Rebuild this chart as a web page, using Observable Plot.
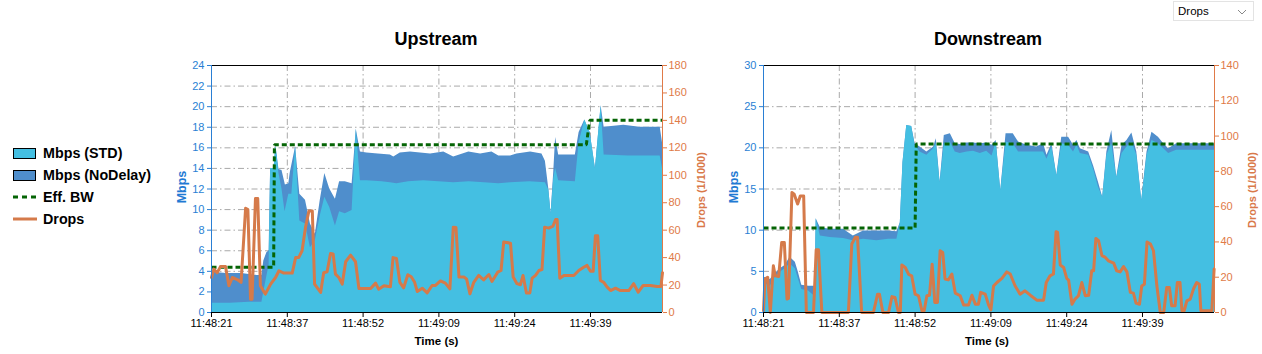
<!DOCTYPE html>
<html><head><meta charset="utf-8">
<script src="https://cdn.jsdelivr.net/npm/d3@7"></script>
<script src="https://cdn.jsdelivr.net/npm/@observablehq/plot@0.6"></script>
<style>
html,body{margin:0;padding:0;background:#fff;overflow:hidden;}
#root{position:relative;width:1262px;height:354px;font-family:"Liberation Sans",Arial,sans-serif;}
.title{position:absolute;font-weight:bold;font-size:18px;line-height:18px;color:#000;transform:translateX(-50%);white-space:nowrap;}
.rot{position:absolute;font-weight:bold;font-size:11px;line-height:11px;white-space:nowrap;transform:translate(-50%,-50%) rotate(-90deg);}
.xlab{position:absolute;font-weight:bold;font-size:11.5px;line-height:12px;white-space:nowrap;transform:translate(-50%,-50%);color:#000;}
.lg{position:absolute;left:43px;font-weight:bold;font-size:14.3px;line-height:20px;color:#000;white-space:nowrap;}
.box{position:absolute;left:13px;width:23px;height:11px;border:1px solid #000;box-sizing:border-box;}
svg.plot{position:absolute;}
</style>
</head><body>
<div id="root"></div>
<script>
// ---------- shared axis data ----------
const timeTickIdx = [0, 20, 40, 60, 80, 100];
const timeLabels = ["11:48:21", "11:48:37", "11:48:52", "11:49:09", "11:49:24", "11:49:39"];
const upMbpsTicks = [0,2,4,6,8,10,12,14,16,18,20,22,24];
const upDropsTicks = [0,20,40,60,80,100,120,140,160,180];
const dnMbpsTicks = [0,5,10,15,20,25,30];
const dnDropsTicks = [0,20,40,60,80,100,120,140];
const legendLabels = ["Mbps (STD)", "Mbps (NoDelay)", "Eff. BW", "Drops"];

// ---------- Upstream series: [sample, value] ----------
const upStd = [[0,0.9],[5,0.9],[10,1.0],[13.3,1.0],[13.8,2.0],[14.6,3.5],[15.2,4.6],[15.6,14.0],[16.5,14.0],[17,16.2],[17.8,13.5],[18.6,12.0],[19.4,9.8],[20.4,11.5],[21.2,11.5],[22.2,16.1],[23.3,8.9],[24.8,8.6],[26.1,6.3],[27.4,7.0],[28.7,9.4],[29.9,11.2],[31.2,10.2],[32.7,8.4],[33.8,9.8],[35.3,9.6],[37.1,9.9],[38.2,17.8],[39.3,12.8],[41,12.8],[45,12.7],[47.2,12.6],[48.9,12.5],[52,12.7],[56,12.8],[60,12.7],[63.9,12.6],[68,12.7],[72,12.6],[75.8,12.5],[78.9,12.6],[84,12.7],[88.1,12.6],[89,11.9],[89.6,9.6],[90.3,13.0],[90.8,14.0],[91.6,12.8],[96,12.7],[97,16.5],[98.5,18.7],[99.9,17.5],[101.3,14.0],[102.8,20.1],[103.6,15.3],[110,15.2],[118.4,15.2],[119,14.0]];
const upNoDelay = [[0,3.9],[4,3.8],[8,3.8],[12,3.6],[13.3,3.6],[13.8,5.0],[14.6,5.8],[15.2,6.0],[15.6,14.0],[16.5,14.0],[17,16.2],[17.8,13.9],[18.6,13.8],[19.5,12.4],[20.4,12.5],[20.8,13.6],[22.2,16.1],[23.3,11.5],[24.8,10.9],[26.1,8.6],[27.4,7.6],[28.7,10.9],[29.9,13.5],[31.2,12.0],[32.7,11.0],[33.8,12.7],[35.3,12.7],[37.1,12.5],[38.2,17.8],[39.3,15.6],[41,15.5],[44,15.4],[47.2,15.3],[48.1,15.1],[49.8,15.5],[52.5,15.6],[57.8,15.4],[61.3,15.6],[63.9,15.1],[67.9,15.6],[71,15.4],[74,15.6],[75.8,15.2],[78.9,15.2],[80.6,15.4],[84.2,15.6],[87.2,15.4],[88.1,14.7],[89,12.0],[89.6,9.6],[90.3,13.6],[90.8,17.0],[91.6,15.3],[96,15.3],[97,17.5],[98.5,18.7],[99.9,17.5],[101.3,14.0],[102.8,20.1],[103.6,18.0],[108.8,18.2],[113,18.0],[118.4,18.0],[119,16.5]];
const upEffBw = [[0,4.4],[16.4,4.4],[16.6,16.3],[98.9,16.3],[99.8,18.67],[119,18.67]];
const upDrops = [[0,25.5],[0.6,31.6],[1.5,29],[2.4,33.6],[3.7,33.6],[4.6,19.5],[5.5,25.5],[6.8,24],[7.8,22],[9,76],[9.6,75],[10.3,9.7],[10.7,9.7],[11.6,83],[12.2,83],[12.9,19.5],[14.2,13.4],[15.6,20.7],[16.9,25.5],[17.8,30.4],[19.1,28.7],[21.3,28.7],[22.2,40],[23,40],[23.9,45],[24.8,62],[25.7,74],[26.6,74],[27.2,20.7],[28.8,14.6],[29.6,29],[30.5,29.7],[31.4,43],[32.1,42.6],[32.7,28],[33.6,25.5],[34.5,20.7],[35.4,37],[36.7,41.8],[38,37],[38.9,17.5],[42,17.5],[43.3,21.4],[44.1,17],[45.5,19.5],[47.2,18.7],[47.9,40],[48.8,39.4],[49.7,22],[50.7,18],[51.8,27.5],[52.7,26],[53.6,22],[54.3,15.3],[55.6,17.7],[56.9,14.3],[58.2,19.7],[59.1,19.7],[60.4,23],[61.7,21.4],[62.9,17.2],[63.8,62.2],[64.5,62],[65.3,25.8],[66.6,25.8],[67.3,24.5],[68.2,13.6],[69.2,22],[70.5,27],[71.8,23.8],[73.2,27.7],[74,22.6],[75.5,29.4],[76.4,30.6],[77.1,51.3],[78.9,50.5],[79.6,25.8],[80.6,21],[81.5,20.2],[82.2,27],[83.1,14.3],[84,14.3],[84.6,25],[85.5,27],[86.4,30.6],[87.2,31.3],[87.9,62.2],[89,61.5],[90.1,63],[90.8,67.8],[91.2,67.8],[91.9,25],[93,27],[95.6,27],[96.9,30.6],[98.2,33],[99.1,34.3],[100,30],[100.7,30],[101.3,56],[101.9,56],[102.6,23.3],[103.5,22],[104.4,18.5],[105.3,16],[106.6,17.7],[107.9,16],[110.1,16],[111.4,21],[112.6,14.8],[113.9,19.7],[115.8,19.7],[117.6,19],[118.6,19],[119,29]];

// ---------- Downstream series: [sample, value] ----------
const dnStd = [[0,3.6],[1.8,3.2],[3.1,4.3],[4.4,4.9],[5.7,5.3],[7,5.9],[8.4,5.3],[9.2,4.1],[10.1,2.8],[11.9,2.6],[13.2,2.1],[13.6,2.1],[13.9,11.4],[15,9.3],[17.6,9.1],[21.1,9.0],[23.7,8.7],[26.4,8.9],[29.9,8.7],[33,8.9],[35.2,8.9],[36.1,10.9],[36.8,18.2],[37.8,22.7],[39.1,22.6],[40,20.3],[41.3,19.5],[43.1,19.1],[44.9,19.9],[45.6,20.5],[46.6,15.8],[47.7,20.5],[49.3,20.7],[50.6,19.5],[51.9,19.3],[53.7,19.5],[55.4,19.6],[57.2,19.3],[58.9,19.6],[60.3,19.0],[61.4,20.7],[62.6,14.8],[64,20.7],[65.9,20.5],[67.3,19.5],[69.5,19.5],[72.1,19.5],[73.9,19.5],[74.8,18.6],[76.1,20.1],[77.4,16.6],[78.7,20.5],[80.5,20.3],[81.8,19.5],[82.7,20.3],[83.6,19.3],[85.8,19.1],[87.1,17.4],[88.4,15.2],[89.5,14.0],[90.6,19.1],[91.9,20.5],[93.2,16.4],[94.6,19.3],[95.9,20.1],[97.2,20.7],[98.5,19.1],[99.8,13.6],[101.2,19.1],[102.5,20.9],[104.2,20.5],[105.6,19.9],[106.9,19.3],[109,19.7],[114,19.7],[119,19.7]];
const dnNoDelay = [[0,4.3],[1.8,4.0],[3.1,4.7],[4.4,5.3],[5.7,5.7],[7,6.7],[8.4,6.1],[9.2,4.9],[10.1,3.3],[11.9,3.2],[13.2,3.2],[13.6,3.2],[13.9,11.4],[15,10.3],[17.6,10.1],[21.1,10.1],[23.7,9.3],[26.4,9.9],[29.9,9.9],[33,9.9],[35.2,9.8],[36.1,10.9],[36.8,18.2],[37.8,22.7],[39.1,22.6],[40,20.5],[41.3,20.1],[43.1,19.5],[44.9,20.1],[45.6,21.1],[46.6,15.8],[47.7,21.5],[49.3,21.7],[50.6,20.5],[51.9,20.4],[53.7,20.6],[55.4,20.6],[57.2,20.5],[58.9,20.6],[60.3,20.3],[61.4,20.9],[62.6,14.8],[64,21.7],[65.9,21.7],[67.3,20.7],[69.5,20.3],[72.1,20.1],[73.9,20.5],[74.8,19.1],[76.1,20.5],[77.4,16.6],[78.7,21.3],[80.5,21.3],[81.8,20.3],[82.7,20.9],[83.6,19.9],[85.8,19.5],[87.1,17.8],[88.4,15.8],[89.5,14.0],[90.6,19.5],[91.9,22.1],[93.2,16.4],[94.6,20.3],[95.9,20.9],[97.2,21.8],[98.5,19.5],[99.8,13.6],[101.2,19.5],[102.5,21.9],[104.2,21.3],[105.6,20.5],[106.9,19.9],[109,20.5],[114,20.5],[119,20.5]];
const dnEffBw = [[0,10.26],[40,10.26],[40.3,20.47],[119,20.47]];
const dnDrops = [[0,1],[0.4,19],[1.1,20],[1.8,0],[2.6,26.5],[3.1,20.8],[4,20.4],[4.8,39.7],[5.5,39.7],[6.2,7.6],[6.6,8],[7.5,68],[8.1,67],[9,61.5],[9.7,66],[10.6,66],[11.3,0],[13.2,0],[13.9,35.6],[14.5,35.6],[15.4,0],[22.4,0],[23.3,38.8],[24.2,42.6],[24.8,42.6],[25.9,0],[29,0],[30.1,10.4],[30.6,10.4],[31.5,0],[33,0],[33.9,9],[34.7,8.5],[35.6,0],[36.1,0],[36.5,26.9],[37.4,25.5],[38.3,21.6],[39.1,20.8],[40,10.4],[40.9,9.5],[41.8,1],[42.4,1],[43.1,9.5],[43.8,9.8],[44.5,27.4],[45.2,5.7],[45.9,5.7],[46.6,35],[47.3,34],[47.9,19],[48.8,18.5],[49.7,21.8],[50.6,11],[51.9,9.5],[52.8,4.2],[54.1,4.2],[55,9.8],[55.9,4.7],[56.7,4.7],[57.3,11.4],[58.5,10.4],[59.4,4.2],[60,1.5],[60.7,15],[61.6,17],[62.9,19.3],[64.2,23],[65.1,21.8],[66.4,15],[67.7,10.4],[69,12.3],[70.4,9.8],[72.1,7],[73.9,7],[74.6,17],[75.6,20.8],[76.5,21.8],[77.2,45.8],[77.6,45.4],[78.3,26.9],[79.2,25.5],[80,19.3],[80.5,18.4],[81.4,4.7],[82.2,7.6],[83.1,9.5],[84,17],[84.9,9.5],[85.8,9.8],[86.6,23.6],[87.1,23.6],[87.7,42],[88.4,40.7],[89.3,32.2],[90.2,31.2],[91,29.3],[92.4,28],[93.2,23.6],[94.1,23],[95,26],[95.9,23],[96.8,11.4],[97.6,11],[98.3,5.3],[99.2,4.7],[99.8,15],[100.5,16],[101.2,40],[102.1,38.8],[102.9,35],[103.8,15],[104.7,0],[105.6,0],[106.4,14.2],[107.1,14.2],[107.7,3.8],[108.6,3.8],[109.2,17],[109.9,17],[110.4,1],[111,1],[111.7,6.6],[112.6,7.6],[113.5,13.6],[114.3,17],[115,16],[115.4,1],[118.3,1],[118.9,24.6]];

// ---------- styles ----------
const LIGHT = "#44bfe2", DARK = "#4f8ecc", GREEN = "#056405", ORANGE = "#d57a4a";
const AX_BLUE = "#2a7fd4", AX_ORANGE = "#e07a47", GRID = "#a9a9a9";

const root = document.getElementById("root");

function makeChart(o) {
  const k = o.yMax / o.dMax;
  const X = d => d[0], Y = d => d[1];
  const svg = Plot.plot({
    width: o.width, height: 299,
    marginLeft: o.ml, marginRight: o.mr, marginTop: 10, marginBottom: 42,
    style: {fontFamily: '"Liberation Sans", Arial, sans-serif', fontSize: "11px", background: "transparent", overflow: "visible"},
    x: {domain: [0, 119]},
    y: {domain: [0, o.yMax]},
    marks: [
      Plot.gridX(timeTickIdx.slice(1), {stroke: GRID, strokeOpacity: 1, strokeWidth: 1, strokeDasharray: "6,3,1.5,3"}),
      Plot.gridY(o.yTicks.slice(1, -1), {stroke: GRID, strokeOpacity: 1, strokeWidth: 1, strokeDasharray: "6,3,1.5,3"}),
      Plot.areaY(o.nd, {x: X, y: Y, fill: DARK}),
      Plot.areaY(o.std, {x: X, y: Y, fill: LIGHT}),
      Plot.line(o.bw, {x: X, y: Y, stroke: GREEN, strokeWidth: 3, strokeDasharray: "5,3", strokeLinecap: "butt", strokeLinejoin: "miter"}),
      Plot.line(o.drops, {x: X, y: d => d[1] * k, stroke: ORANGE, strokeWidth: 3}),
      Plot.ruleY([o.yMax], {stroke: "#000", strokeWidth: 1}),
      Plot.ruleY([0], {stroke: "#000", strokeWidth: 1}),
      Plot.ruleX([0], {stroke: AX_BLUE, strokeWidth: 1}),
      Plot.ruleX([119], {stroke: AX_ORANGE, strokeWidth: 1}),
      Plot.axisX(timeTickIdx, {tickFormat: i => timeLabels[timeTickIdx.indexOf(i)], tickSize: 5, tickPadding: 2, color: "#000", label: null}),
      Plot.axisY(o.yTicks, {anchor: "left", tickSize: 4, tickPadding: 3, color: AX_BLUE, label: null}),
      Plot.axisY(o.dTicks.map(v => v * k), {anchor: "right", tickSize: 4, tickPadding: 2, color: AX_ORANGE, label: null, tickFormat: v => String(Math.round(v / k))})
    ]
  });
  svg.classList.add("plot");
  svg.style.left = o.left + "px";
  svg.style.top = "55px";
  root.appendChild(svg);
}

makeChart({left: 150, width: 570, ml: 61, mr: 58, yMax: 24, dMax: 180, yTicks: upMbpsTicks, dTicks: upDropsTicks, std: upStd, nd: upNoDelay, bw: upEffBw, drops: upDrops});
makeChart({left: 705, width: 557, ml: 58, mr: 48, yMax: 30, dMax: 140, yTicks: dnMbpsTicks, dTicks: dnDropsTicks, std: dnStd, nd: dnNoDelay, bw: dnEffBw, drops: dnDrops});

function addDiv(cls, text, css) {
  const d = document.createElement("div");
  d.className = cls;
  d.textContent = text;
  Object.assign(d.style, css);
  root.appendChild(d);
  return d;
}
// titles
addDiv("title", "Upstream", {left: "436px", top: "30px"});
addDiv("title", "Downstream", {left: "988px", top: "30px"});
// axis titles
addDiv("rot", "Mbps", {left: "182px", top: "187px", color: "#1f7ad3", fontSize: "12.5px"});
addDiv("rot", "Drops (1/1000)", {left: "701px", top: "190px", color: "#d9794a"});
addDiv("rot", "Mbps", {left: "734px", top: "187px", color: "#1f7ad3", fontSize: "12.5px"});
addDiv("rot", "Drops (1/1000)", {left: "1252px", top: "190px", color: "#d9794a"});
addDiv("xlab", "Time (s)", {left: "436.5px", top: "341px"});
addDiv("xlab", "Time (s)", {left: "987px", top: "341px"});

// legend
const rowsY = [153, 174.5, 196.5, 219];
addDiv("box", "", {top: (rowsY[0] - 5) + "px", background: LIGHT});
addDiv("box", "", {top: (rowsY[1] - 5) + "px", background: DARK});
function legendLine(y, color, dash) {
  const ns = "http://www.w3.org/2000/svg";
  const s = document.createElementNS(ns, "svg");
  s.setAttribute("width", 26); s.setAttribute("height", 6);
  s.style.position = "absolute"; s.style.left = "12px"; s.style.top = (y - 3) + "px";
  const l = document.createElementNS(ns, "line");
  l.setAttribute("x1", 1); l.setAttribute("x2", 25); l.setAttribute("y1", 3); l.setAttribute("y2", 3);
  l.setAttribute("stroke", color); l.setAttribute("stroke-width", 3);
  if (dash) l.setAttribute("stroke-dasharray", dash);
  s.appendChild(l);
  root.appendChild(s);
}
legendLine(rowsY[2], GREEN, "5,4");
legendLine(rowsY[3], ORANGE, null);
legendLabels.forEach((t, i) => addDiv("lg", t, {top: (rowsY[i] - 10) + "px"}));

// dropdown
const dd = document.createElement("div");
Object.assign(dd.style, {position: "absolute", left: "1173px", top: "1px", width: "81px", height: "20px", border: "1px solid #e3e3e3", boxSizing: "border-box", background: "#fff"});
dd.innerHTML = '<span style="position:absolute;left:4px;top:3px;font-size:11.5px;line-height:13px;font-family:Liberation Sans,Arial,sans-serif;color:#000">Drops</span>' +
  '<svg width="10" height="6" style="position:absolute;right:6px;top:7px"><path d="M1,1 L5,5 L9,1" fill="none" stroke="#888" stroke-width="1"/></svg>';
root.appendChild(dd);
</script>
</body></html>
